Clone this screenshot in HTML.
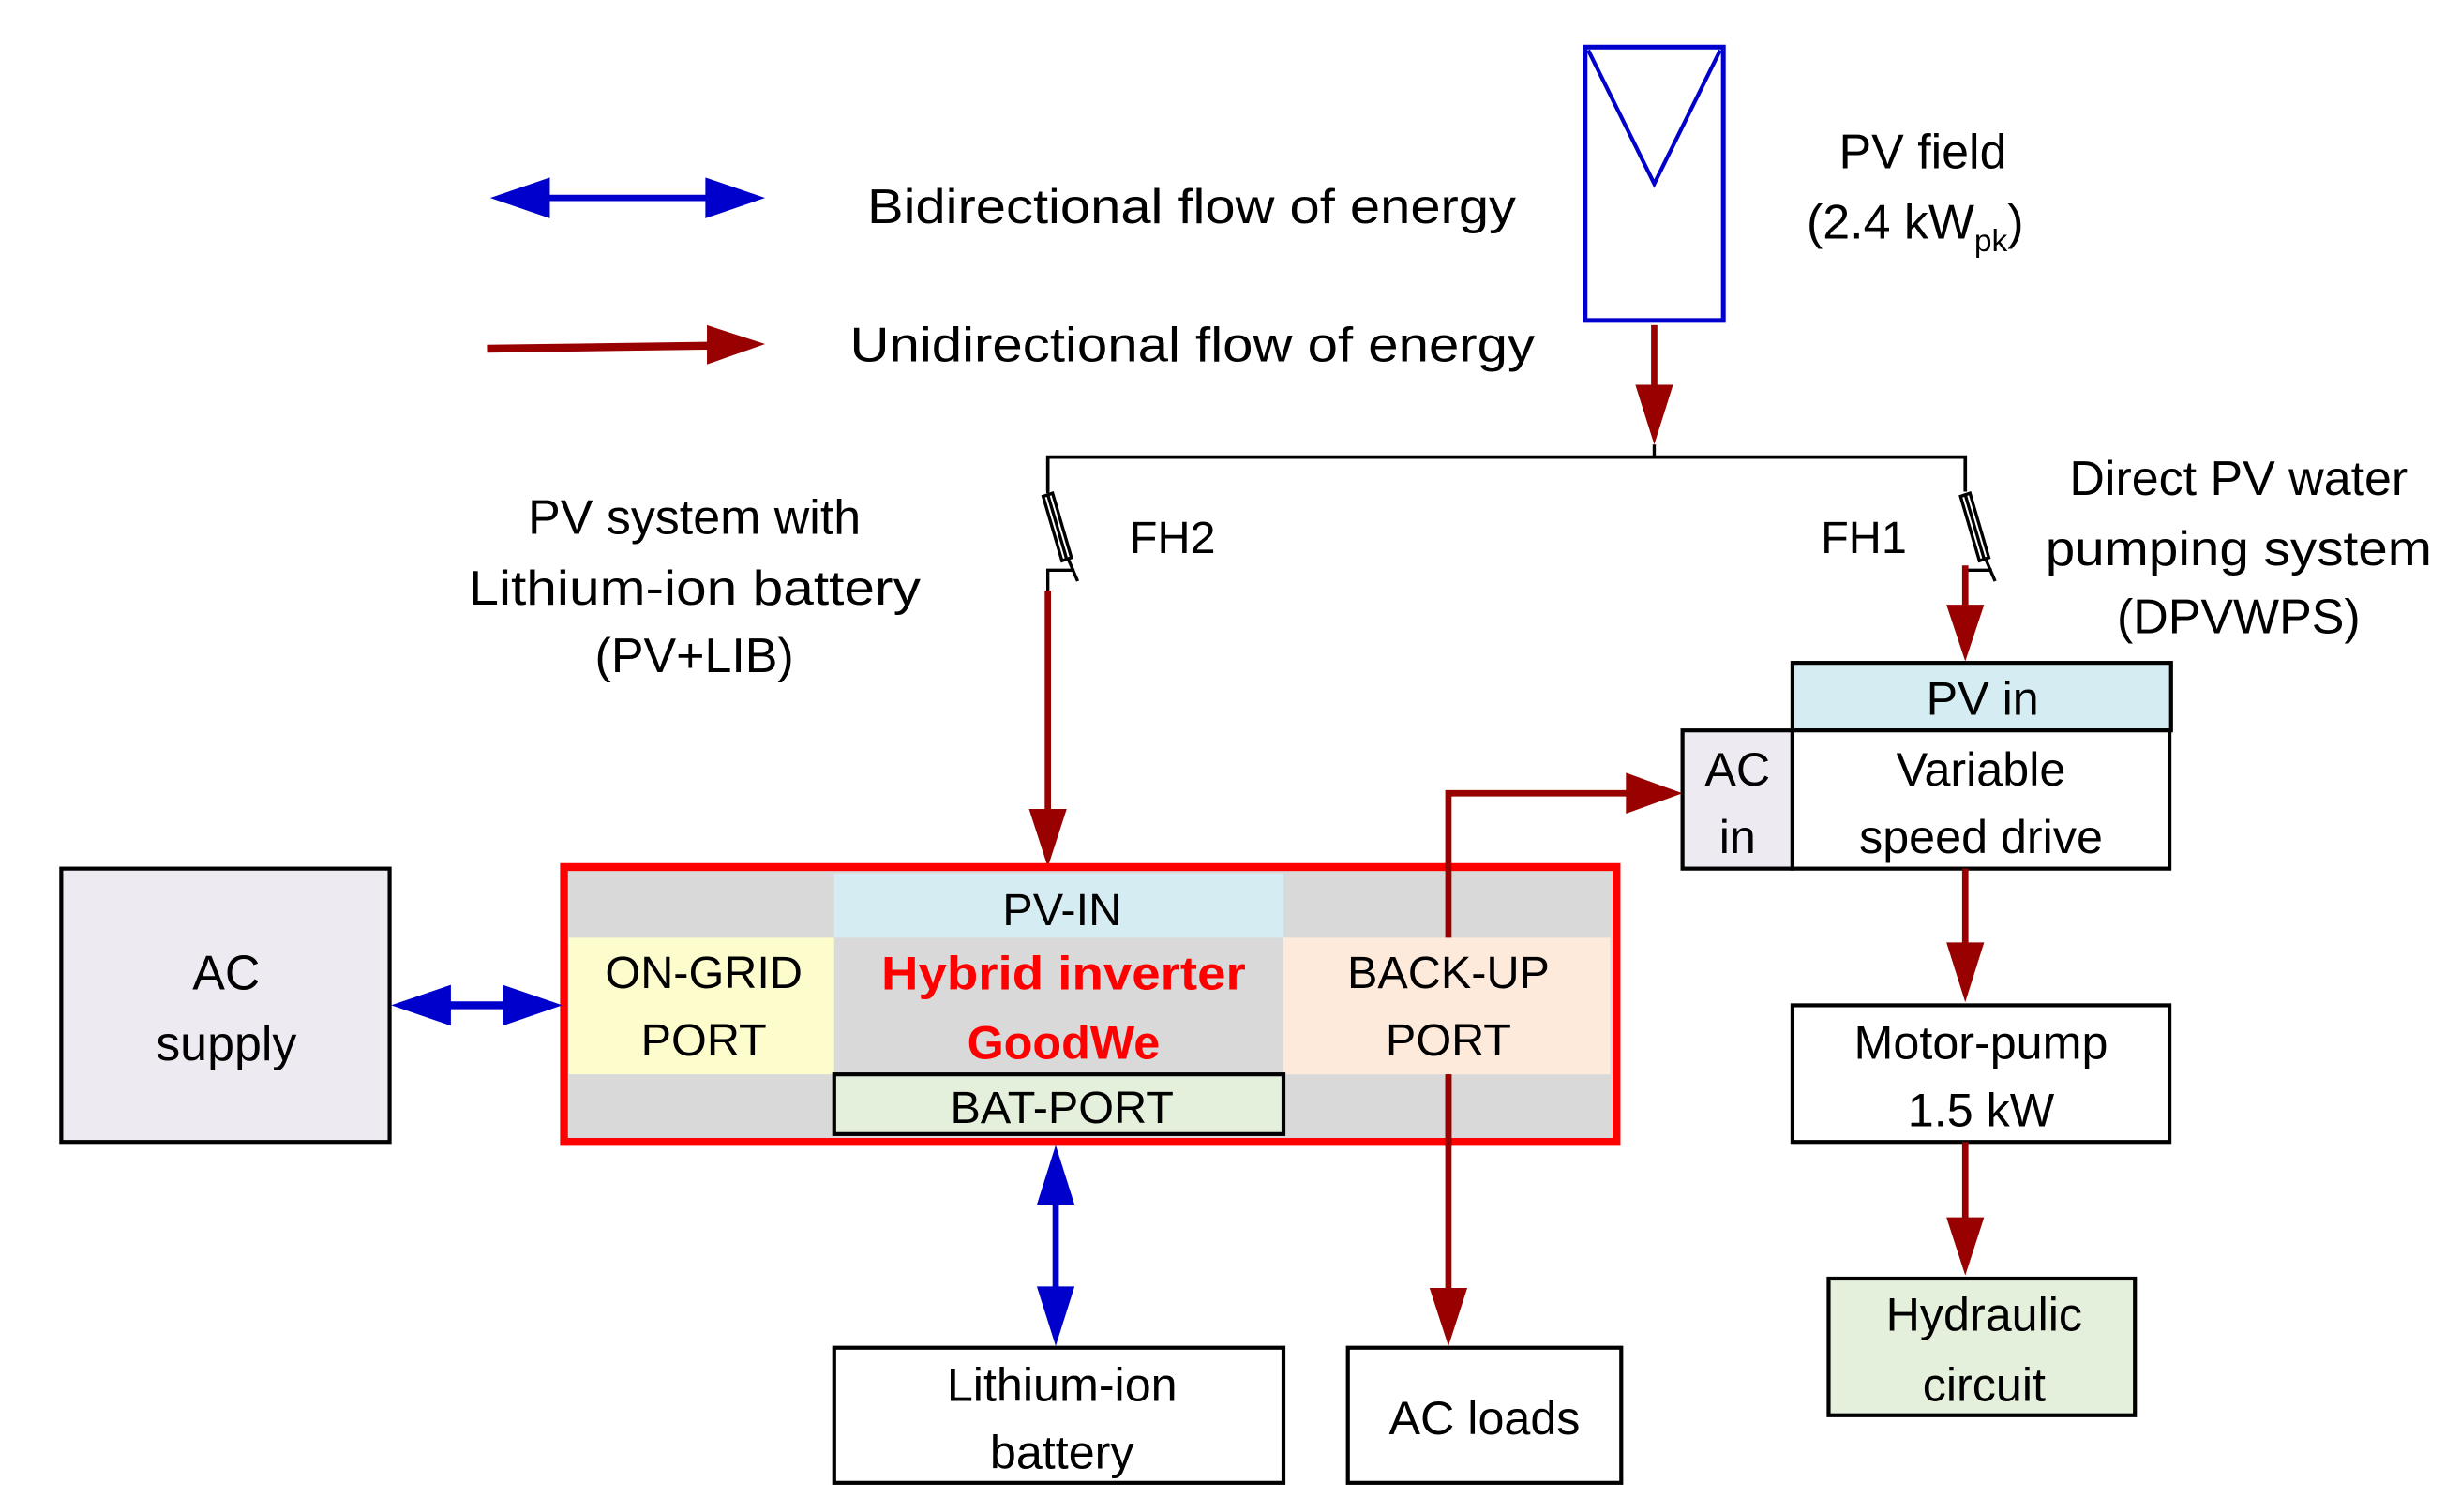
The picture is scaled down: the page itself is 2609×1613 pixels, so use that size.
<!DOCTYPE html>
<html><head><meta charset="utf-8"><style>html,body{margin:0;padding:0;background:#fff}svg{display:block}text{font-family:"Liberation Sans",sans-serif;fill:#000}</style></head>
<body>
<svg width="2609" height="1613" viewBox="0 0 1557 962.6" preserveAspectRatio="none" xmlns="http://www.w3.org/2000/svg">
<defs>
<marker id="rh" markerWidth="10" markerHeight="10" refX="0" refY="0" orient="auto" markerUnits="userSpaceOnUse" viewBox="-40 -14 40 28"><path d="M-38,-13 L0,0 L-38,13 Z" fill="#990000"/></marker>
</defs>
<!-- legend -->
<line x1="340" y1="126" x2="460" y2="126" stroke="#0000cc" stroke-width="4"/>
<path d="M312,126 L350,113 L350,139 Z" fill="#0000cc"/>
<path d="M487,126 L449,113 L449,139 Z" fill="#0000cc"/>
<text x="552" y="142" font-size="31" textLength="413" lengthAdjust="spacingAndGlyphs">Bidirectional flow of energy</text>
<line x1="310" y1="222" x2="455" y2="220" stroke="#990000" stroke-width="5"/>
<path d="M487,219 L450,207 L450,232 Z" fill="#990000"/>
<text x="541" y="230" font-size="31" textLength="436" lengthAdjust="spacingAndGlyphs">Unidirectional flow of energy</text>
<!-- PV panel -->
<rect x="1009" y="30" width="88" height="174" fill="#fff" stroke="#0000cc" stroke-width="3"/>
<polyline points="1011,32 1053,117 1095,32" fill="none" stroke="#0000cc" stroke-width="2.5"/>
<text x="1224" y="107" font-size="31" text-anchor="middle">PV field</text>
<text x="1150" y="152" font-size="31">(2.4 kW<tspan font-size="20" dy="8">pk</tspan><tspan dy="-8">)</tspan></text>
<!-- PV down -->
<line x1="1053" y1="207" x2="1053" y2="250" stroke="#990000" stroke-width="4"/>
<path d="M1053,283 L1041,245 L1065,245 Z" fill="#990000"/>
<line x1="1053" y1="283" x2="1053" y2="291" stroke="#000" stroke-width="2"/>
<polyline points="667,313 667,291 1251,291 1251,313" fill="none" stroke="#000" stroke-width="2.2"/>
<!-- fuses -->
<g fill="none" stroke="#000" stroke-width="2">
<path d="M667,291 L667,314"/>
<path d="M664,316 L670,314 L682,355 L676,357 Z"/><path d="M667,315 L679,356"/>
<path d="M667,376 L667,363 L684,363 M680,356 L686,370"/>
<path d="M1248,316 L1254,314 L1266,355 L1260,357 Z"/><path d="M1251,315 L1263,356"/>
<path d="M1251,363 L1268,363 M1264,356 L1270,370"/>
</g>
<text x="719" y="352" font-size="29">FH2</text>
<text x="1159" y="352" font-size="29">FH1</text>
<text x="442" y="340" font-size="31" text-anchor="middle">PV system with</text>
<text x="442" y="385" font-size="31" text-anchor="middle" textLength="288" lengthAdjust="spacingAndGlyphs">Lithium-ion battery</text>
<text x="442" y="428" font-size="31" text-anchor="middle">(PV+LIB)</text>
<text x="1425" y="315" font-size="31" text-anchor="middle">Direct PV water</text>
<text x="1425" y="360" font-size="31" text-anchor="middle" textLength="246" lengthAdjust="spacingAndGlyphs">pumping system</text>
<text x="1425" y="403" font-size="31" text-anchor="middle">(DPVWPS)</text>
<!-- red down lines -->
<line x1="667" y1="376" x2="667" y2="520" stroke="#990000" stroke-width="4"/>
<path d="M667,552 L655,515 L679,515 Z" fill="#990000"/>
<line x1="1251" y1="360" x2="1251" y2="390" stroke="#990000" stroke-width="4"/>
<path d="M1251,421 L1239,385 L1263,385 Z" fill="#990000"/>
<!-- VSD -->
<rect x="1141" y="422" width="241" height="43" fill="#d5edf2" stroke="#000" stroke-width="2.5"/>
<text x="1262" y="455" font-size="30" text-anchor="middle">PV in</text>
<rect x="1071" y="465" width="70" height="88" fill="#eeeaf2" stroke="#000" stroke-width="2.5"/>
<rect x="1141" y="465" width="240" height="88" fill="#fff" stroke="#000" stroke-width="2.5"/>
<text x="1106" y="500" font-size="30" text-anchor="middle">AC</text>
<text x="1106" y="543" font-size="30" text-anchor="middle">in</text>
<text x="1261" y="500" font-size="30" text-anchor="middle">Variable</text>
<text x="1261" y="543" font-size="30" text-anchor="middle">speed drive</text>
<line x1="1251" y1="553" x2="1251" y2="605" stroke="#990000" stroke-width="4"/>
<path d="M1251,638 L1239,600 L1263,600 Z" fill="#990000"/>
<rect x="1141" y="640" width="240" height="87" fill="#fff" stroke="#000" stroke-width="2.5"/>
<text x="1261" y="674" font-size="30" text-anchor="middle">Motor-pump</text>
<text x="1261" y="717" font-size="30" text-anchor="middle">1.5 kW</text>
<line x1="1251" y1="727" x2="1251" y2="780" stroke="#990000" stroke-width="4"/>
<path d="M1251,812 L1239,775 L1263,775 Z" fill="#990000"/>
<rect x="1164" y="814" width="195" height="87" fill="#e5f0dc" stroke="#000" stroke-width="2.5"/>
<text x="1263" y="847" font-size="30" text-anchor="middle">Hydraulic</text>
<text x="1263" y="892" font-size="30" text-anchor="middle">circuit</text>
<!-- inverter -->
<rect x="359" y="552" width="670" height="175" fill="#d9d9d9" stroke="#ff0000" stroke-width="5"/>
<rect x="531" y="556" width="286" height="41" fill="#d5edf2"/>
<text x="676" y="589" font-size="29" text-anchor="middle">PV-IN</text>
<rect x="362" y="597" width="169" height="87" fill="#fdfccc"/>
<text x="448" y="629" font-size="29" text-anchor="middle">ON-GRID</text>
<text x="448" y="672" font-size="29" text-anchor="middle">PORT</text>
<text x="677" y="630" font-size="30" font-weight="bold" text-anchor="middle" style="fill:#ff0000" textLength="232" lengthAdjust="spacingAndGlyphs">Hybrid inverter</text>
<text x="677" y="674" font-size="30" font-weight="bold" text-anchor="middle" style="fill:#ff0000">GoodWe</text>
<!-- red backup lines -->
<polyline points="922,600 922,505 1040,505" fill="none" stroke="#990000" stroke-width="4"/>
<path d="M1071,505 L1035,492 L1035,518 Z" fill="#990000"/>
<line x1="922" y1="684" x2="922" y2="825" stroke="#990000" stroke-width="4"/>
<path d="M922,857 L910,820 L934,820 Z" fill="#990000"/>
<rect x="817" y="597" width="208" height="87" fill="#fdeadb"/>
<text x="922" y="629" font-size="29" text-anchor="middle">BACK-UP</text>
<text x="922" y="672" font-size="29" text-anchor="middle">PORT</text>
<line x1="922" y1="684" x2="922" y2="730" stroke="#990000" stroke-width="4"/>
<rect x="531" y="684" width="286" height="38" fill="#e5f0dc" stroke="#000" stroke-width="2.5"/>
<text x="676" y="715" font-size="29" text-anchor="middle">BAT-PORT</text>
<!-- AC supply -->
<rect x="39" y="553" width="209" height="174" fill="#eeeaf2" stroke="#000" stroke-width="2.5"/>
<text x="144" y="630" font-size="31" text-anchor="middle">AC</text>
<text x="144" y="675" font-size="31" text-anchor="middle">supply</text>
<line x1="280" y1="640" x2="330" y2="640" stroke="#0000cc" stroke-width="5"/>
<path d="M249,640 L287,627 L287,653 Z" fill="#0000cc"/>
<path d="M358,640 L320,627 L320,653 Z" fill="#0000cc"/>
<line x1="672" y1="760" x2="672" y2="825" stroke="#0000cc" stroke-width="4"/>
<path d="M672,729 L660,767 L684,767 Z" fill="#0000cc"/>
<path d="M672,857 L660,819 L684,819 Z" fill="#0000cc"/>
<rect x="531" y="858" width="286" height="86" fill="#fff" stroke="#000" stroke-width="2.5"/>
<text x="676" y="892" font-size="30" text-anchor="middle">Lithium-ion</text>
<text x="676" y="935" font-size="30" text-anchor="middle">battery</text>
<rect x="858" y="858" width="174" height="86" fill="#fff" stroke="#000" stroke-width="2.5"/>
<text x="945" y="913" font-size="30" text-anchor="middle">AC loads</text>
</svg>
</body></html>
